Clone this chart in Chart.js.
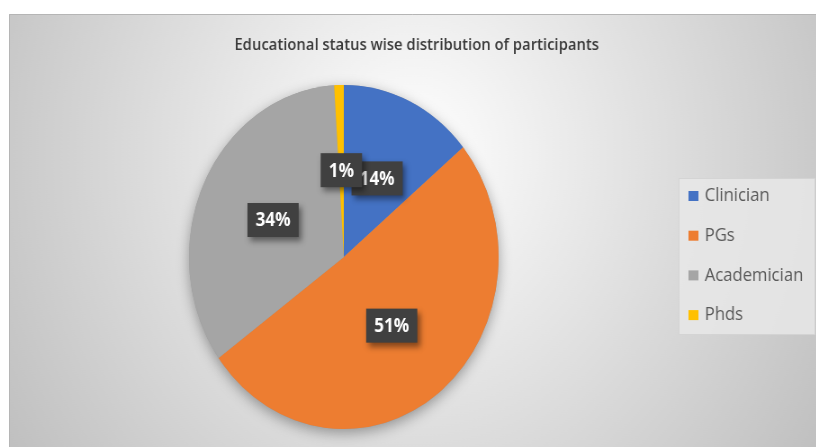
<!DOCTYPE html>
<html>
<head>
<meta charset="utf-8">
<script src="https://cdn.jsdelivr.net/npm/chart.js@4.4.1/dist/chart.umd.min.js"></script>
<style>
  html, body { margin: 0; background: #fff; }
  #wrap {
    position: absolute; left: 9px; top: 14px;
    width: 897px; height: 433px;
    transform: scaleX(0.9); transform-origin: 0 0;
  }
</style>
</head>
<body>
<div id="wrap"><canvas id="pie" width="897" height="433"></canvas></div>
<script>
const chartTitle = "Educational status wise distribution of participants";
const categories = ["Clinician", "PGs", "Academician", "Phds"];
const shares = [14, 51, 34, 1];
const colors = ["#4472C4", "#ED7D31", "#A5A5A5", "#FFC000"];

// gradient panel, title and the soft shadow beneath the pie
const panel = {
  id: "panel",
  beforeDraw(chart) {
    const { ctx, width, height } = chart;
    const g = ctx.createRadialGradient(450, 140, 0, 450, 140, 560);
    g.addColorStop(0, "#ffffff");
    g.addColorStop(1, "#bdbdbd");
    ctx.save();
    ctx.fillStyle = g;
    ctx.fillRect(0, 0, width, height);
    ctx.strokeStyle = "#b5b5b5";
    ctx.beginPath();
    ctx.moveTo(0.5, height);
    ctx.lineTo(0.5, 0.5);
    ctx.lineTo(width, 0.5);
    ctx.stroke();
    ctx.fillStyle = "#3a3a3a";
    ctx.font = "600 16.5px 'Open Sans'";
    ctx.textAlign = "center";
    ctx.textBaseline = "middle";
    ctx.fillText(chartTitle, 453, 31);
    ctx.restore();
  },
  beforeDatasetsDraw(chart) {
    const arc = chart.getDatasetMeta(0).data[0];
    const { ctx } = chart;
    ctx.save();
    ctx.shadowColor = "rgba(0,0,0,0.35)";
    ctx.shadowBlur = 14;
    ctx.shadowOffsetY = 4;
    ctx.fillStyle = "#999";
    ctx.beginPath();
    ctx.arc(arc.x, arc.y, arc.outerRadius, 0, Math.PI * 2);
    ctx.fill();
    ctx.restore();
  }
};

// dark value boxes halfway out along each slice
const valueBoxes = {
  id: "valueBoxes",
  afterDatasetsDraw(chart) {
    const { ctx } = chart;
    const meta = chart.getDatasetMeta(0);
    ctx.save();
    ctx.font = "bold 19px 'Open Sans'";
    ctx.textAlign = "center";
    ctx.textBaseline = "middle";
    meta.data.forEach((arc, i) => {
      const mid = (arc.startAngle + arc.endAngle) / 2;
      const r = arc.outerRadius * 0.505;
      const x = arc.x + Math.cos(mid) * r;
      const y = arc.y + Math.sin(mid) * r;
      const text = shares[i] + "%";
      const w = ctx.measureText(text).width + 18;
      const h = 34;
      ctx.shadowColor = "rgba(0,0,0,0.45)";
      ctx.shadowBlur = 6;
      ctx.shadowOffsetX = 3;
      ctx.shadowOffsetY = 4;
      ctx.fillStyle = "#404040";
      ctx.fillRect(x - w / 2, y - h / 2, w, h);
      ctx.shadowColor = "transparent";
      ctx.fillStyle = "#ffffff";
      ctx.fillText(text, x, y + 1);
    });
    ctx.restore();
  }
};

// legend panel on the right
const sideLegend = {
  id: "sideLegend",
  afterDraw(chart) {
    const { ctx } = chart;
    const x0 = 744, y0 = 164, w = 152, h = 157;
    ctx.save();
    ctx.fillStyle = "rgba(232,232,232,0.85)";
    ctx.fillRect(x0, y0, w, h);
    ctx.strokeStyle = "rgba(200,200,200,0.6)";
    ctx.strokeRect(x0 + 0.5, y0 + 0.5, w - 1, h - 1);
    ctx.font = "18.5px 'Open Sans'";
    ctx.textAlign = "left";
    ctx.textBaseline = "middle";
    chart.data.labels.forEach((label, i) => {
      const y = 182 + i * 39.7;
      ctx.fillStyle = chart.data.datasets[0].backgroundColor[i];
      ctx.fillRect(755, y - 5, 11, 10);
      ctx.fillStyle = "#595959";
      ctx.fillText(label, 773, y);
    });
    ctx.restore();
  }
};

new Chart(document.getElementById("pie"), {
  type: "pie",
  data: {
    labels: categories,
    datasets: [{
      data: shares,
      backgroundColor: colors,
      borderWidth: 0,
      hoverOffset: 0,
      radius: 172
    }]
  },
  options: {
    responsive: false,
    animation: false,
    events: [],
    layout: { padding: { left: 200, right: 353, top: 71, bottom: 18 } },
    plugins: {
      legend: { display: false },
      tooltip: { enabled: false }
    }
  },
  plugins: [panel, valueBoxes, sideLegend]
});
</script>
</body>
</html>
